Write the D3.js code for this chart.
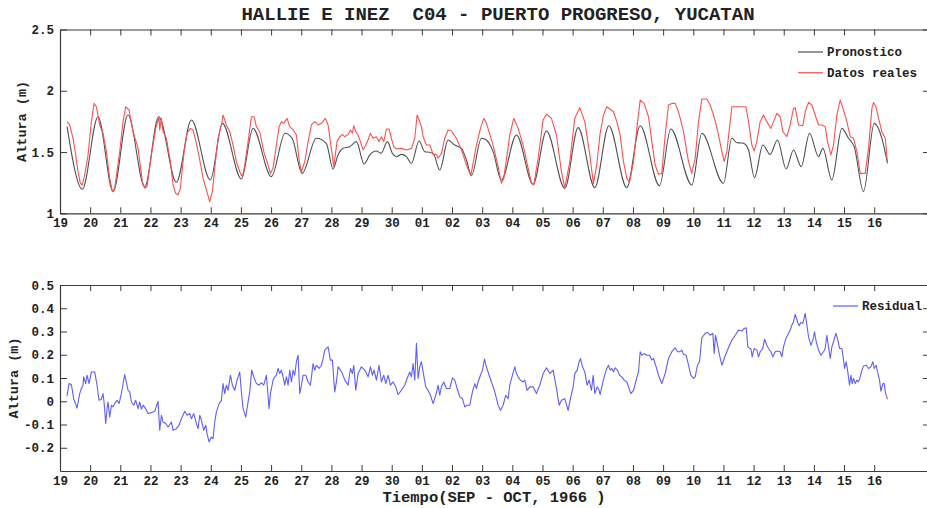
<!DOCTYPE html>
<html><head><meta charset="utf-8">
<script src="https://cdn.jsdelivr.net/npm/d3@7"></script>
<style>
body{margin:0;background:#fff}
svg{display:block}
text{font-family:"Liberation Mono","DejaVu Sans Mono",monospace;font-weight:bold;fill:#222;white-space:pre}
</style>
</head><body><svg id="c" width="927" height="508"></svg>
<script>
const titleText = "HALLIE E INEZ  C04 - PUERTO PROGRESO, YUCATAN";
const xLabelText = "Tiempo(SEP - OCT, 1966 )";
const yLabelText = "Altura (m)";
const dayTicks = d3.range(19, 47);
const dayLabels = ["19","20","21","22","23","24","25","26","27","28","29","30","01","02","03","04","05","06","07","08","09","10","11","12","13","14","15","16"];
const topYTicks = [1, 1.5, 2, 2.5];
const topYLabels = ["1", "1.5", "2", "2.5"];
const botYTicks = [-0.2, -0.1, 0, 0.1, 0.2, 0.3, 0.4, 0.5];
const botYLabels = ["-0.2", "-0.1", "0", "0.1", "0.2", "0.3", "0.4", "0.5"];
const seriesNames = ["Pronostico", "Datos reales", "Residual"];

// [day (Sep 1 = 1, Oct 1 = 31), metres]
const pronostico = [[19.233,1.707],[19.742,1.196],[20.260,1.788],[20.760,1.177],[21.256,1.802],[21.809,1.215],[22.274,1.788],[22.860,1.253],[23.357,1.761],[23.987,1.272],[24.385,1.734],[25.016,1.280],[25.400,1.693],[26.010,1.299],[26.464,1.653],[26.70,1.61],[27.030,1.326],[27.50,1.612],[27.83,1.571],[28.055,1.362],[28.221,1.476],[28.387,1.530],[28.608,1.544],[28.829,1.585],[29.083,1.402],[29.271,1.476],[29.493,1.508],[29.65,1.49],[29.857,1.585],[30.023,1.489],[30.156,1.462],[30.322,1.481],[30.488,1.462],[30.653,1.408],[30.908,1.590],[31.096,1.503],[31.262,1.498],[31.394,1.481],[31.593,1.353],[31.870,1.598],[32.091,1.557],[32.312,1.530],[32.478,1.435],[32.644,1.307],[32.975,1.612],[33.141,1.598],[33.362,1.503],[33.638,1.272],[34.136,1.639],[34.689,1.237],[35.131,1.672],[35.739,1.204],[36.181,1.699],[36.734,1.209],[37.200,1.715],[37.796,1.209],[38.238,1.715],[38.880,1.226],[39.255,1.688],[39.952,1.231],[40.284,1.653],[41.002,1.245],[41.279,1.612],[41.445,1.576],[41.60,1.574],[41.666,1.571],[41.832,1.517],[42.030,1.291],[42.307,1.557],[42.55,1.481],[42.79,1.598],[43.08,1.362],[43.324,1.517],[43.578,1.381],[43.855,1.653],[44.153,1.462],[44.297,1.530],[44.595,1.272],[44.927,1.693],[45.149,1.612],[45.336,1.544],[45.645,1.177],[46.0,1.734],[46.254,1.612],[46.44,1.408]];

const datosReales = [[19.233,1.748],[19.322,1.721],[19.432,1.612],[19.521,1.476],[19.598,1.340],[19.675,1.245],[19.742,1.231],[19.819,1.313],[19.930,1.476],[20.040,1.748],[20.129,1.897],[20.206,1.870],[20.317,1.721],[20.427,1.653],[20.538,1.503],[20.648,1.285],[20.737,1.177],[20.814,1.204],[20.980,1.503],[21.091,1.748],[21.179,1.870],[21.290,1.843],[21.422,1.666],[21.588,1.530],[21.732,1.258],[21.809,1.204],[21.887,1.218],[22.030,1.476],[22.174,1.693],[22.285,1.788],[22.307,1.680],[22.362,1.775],[22.417,1.666],[22.528,1.612],[22.661,1.421],[22.749,1.231],[22.837,1.163],[22.915,1.150],[22.992,1.204],[23.103,1.476],[23.213,1.653],[23.324,1.693],[23.412,1.680],[23.523,1.571],[23.634,1.435],[23.744,1.285],[23.855,1.190],[23.965,1.095],[24.054,1.177],[24.131,1.367],[24.242,1.612],[24.352,1.721],[24.407,1.802],[24.518,1.721],[24.629,1.666],[24.739,1.557],[24.850,1.421],[24.960,1.340],[25.049,1.299],[25.126,1.394],[25.237,1.585],[25.347,1.788],[25.436,1.788],[25.513,1.707],[25.624,1.666],[25.756,1.503],[25.867,1.421],[25.977,1.326],[26.066,1.367],[26.176,1.557],[26.265,1.707],[26.342,1.748],[26.420,1.734],[26.530,1.775],[26.619,1.707],[26.729,1.680],[26.840,1.639],[26.928,1.435],[27.006,1.340],[27.116,1.421],[27.227,1.585],[27.337,1.721],[27.448,1.748],[27.559,1.721],[27.669,1.734],[27.802,1.775],[27.890,1.721],[27.967,1.585],[28.078,1.381],[28.188,1.585],[28.277,1.625],[28.365,1.644],[28.443,1.625],[28.553,1.644],[28.631,1.680],[28.697,1.653],[28.741,1.715],[28.807,1.666],[28.885,1.639],[28.962,1.585],[29.051,1.517],[29.139,1.557],[29.216,1.598],[29.294,1.653],[29.382,1.612],[29.493,1.625],[29.581,1.585],[29.659,1.625],[29.736,1.585],[29.825,1.688],[29.913,1.688],[29.990,1.612],[30.068,1.544],[30.156,1.525],[30.322,1.530],[30.488,1.517],[30.654,1.530],[30.764,1.612],[30.842,1.802],[30.908,1.761],[30.985,1.707],[31.041,1.625],[31.151,1.557],[31.262,1.557],[31.372,1.481],[31.483,1.481],[31.538,1.449],[31.649,1.489],[31.759,1.612],[31.870,1.680],[31.980,1.672],[32.146,1.612],[32.312,1.517],[32.478,1.394],[32.622,1.307],[32.810,1.557],[32.943,1.693],[33.053,1.775],[33.141,1.734],[33.362,1.557],[33.528,1.381],[33.639,1.245],[33.716,1.285],[33.915,1.639],[34.048,1.775],[34.192,1.693],[34.357,1.557],[34.523,1.367],[34.634,1.245],[34.711,1.231],[34.855,1.449],[35.021,1.761],[35.131,1.808],[35.297,1.775],[35.463,1.639],[35.629,1.340],[35.739,1.204],[35.905,1.421],[36.071,1.775],[36.237,1.862],[36.403,1.748],[36.569,1.476],[36.690,1.240],[36.80,1.40],[36.91,1.65],[37.02,1.80],[37.133,1.870],[37.354,1.829],[37.465,1.748],[37.575,1.639],[37.686,1.421],[37.797,1.285],[37.885,1.253],[38.018,1.421],[38.128,1.693],[38.239,1.924],[38.371,1.897],[38.515,1.788],[38.626,1.585],[38.736,1.394],[38.847,1.318],[38.957,1.326],[39.068,1.639],[39.178,1.884],[39.289,1.897],[39.400,1.897],[39.510,1.829],[39.676,1.666],[39.842,1.421],[39.952,1.326],[40.063,1.449],[40.174,1.748],[40.284,1.933],[40.450,1.933],[40.560,1.884],[40.671,1.802],[40.760,1.721],[40.837,1.639],[40.948,1.503],[41.025,1.421],[41.113,1.503],[41.279,1.870],[41.445,1.870],[41.611,1.870],[41.744,1.870],[41.832,1.748],[41.943,1.557],[42.020,1.508],[42.108,1.585],[42.219,1.748],[42.329,1.802],[42.440,1.748],[42.573,1.693],[42.661,1.748],[42.772,1.816],[42.882,1.788],[42.971,1.666],[43.103,1.625],[43.214,1.721],[43.324,1.856],[43.380,1.862],[43.490,1.721],[43.634,1.715],[43.711,1.829],[43.822,1.905],[43.933,1.884],[44.043,1.802],[44.154,1.721],[44.264,1.721],[44.375,1.707],[44.452,1.585],[44.563,1.476],[44.651,1.557],[44.762,1.802],[44.872,1.924],[44.983,1.843],[45.093,1.748],[45.204,1.625],[45.314,1.612],[45.425,1.503],[45.536,1.326],[45.702,1.326],[45.812,1.530],[45.923,1.856],[45.978,1.905],[46.055,1.870],[46.144,1.775],[46.254,1.666],[46.365,1.612],[46.442,1.408]];

const residual = [[19.233,0.023],[19.300,0.076],[19.377,0.072],[19.454,0.011],[19.565,-0.029],[19.653,0.033],[19.709,0.055],[19.764,0.069],[19.786,0.105],[19.852,0.076],[19.897,0.112],[19.963,0.076],[20.040,0.126],[20.151,0.126],[20.228,0.069],[20.295,0.004],[20.372,0.009],[20.427,0.033],[20.460,-0.003],[20.516,-0.096],[20.560,-0.032],[20.593,-0.003],[20.648,-0.068],[20.704,-0.017],[20.759,-0.024],[20.814,-0.010],[20.892,0.004],[20.958,-0.010],[21.035,0.033],[21.146,0.115],[21.257,0.047],[21.312,0.040],[21.367,-0.003],[21.444,-0.017],[21.511,0.004],[21.588,-0.032],[21.643,-0.003],[21.699,-0.034],[21.754,-0.017],[21.842,-0.032],[21.920,-0.053],[22.030,-0.049],[22.141,-0.043],[22.252,0.000],[22.307,-0.125],[22.362,-0.060],[22.417,-0.089],[22.506,-0.096],[22.583,-0.111],[22.694,-0.089],[22.749,-0.125],[22.860,-0.118],[22.948,-0.103],[23.025,-0.075],[23.136,-0.043],[23.213,-0.060],[23.302,-0.053],[23.357,-0.075],[23.435,-0.053],[23.523,-0.096],[23.578,-0.118],[23.634,-0.060],[23.689,-0.082],[23.766,-0.125],[23.832,-0.103],[23.877,-0.139],[23.943,-0.175],[24.020,-0.154],[24.076,-0.161],[24.131,-0.089],[24.186,-0.046],[24.275,-0.010],[24.352,0.004],[24.407,0.076],[24.463,0.033],[24.518,0.069],[24.573,0.047],[24.651,0.112],[24.717,0.069],[24.794,0.047],[24.872,0.091],[24.960,0.126],[25.016,0.040],[25.071,-0.032],[25.159,-0.068],[25.237,-0.003],[25.292,0.040],[25.358,0.134],[25.425,0.105],[25.513,0.076],[25.602,0.069],[25.679,0.080],[25.756,0.069],[25.845,0.112],[25.933,-0.032],[25.977,0.033],[26.066,0.091],[26.121,0.105],[26.176,0.112],[26.232,0.141],[26.287,0.119],[26.342,0.134],[26.398,0.105],[26.453,0.069],[26.508,0.105],[26.563,0.069],[26.619,0.134],[26.674,0.083],[26.729,0.134],[26.784,0.112],[26.840,0.170],[26.895,0.198],[26.950,0.033],[27.006,0.069],[27.061,0.112],[27.149,0.112],[27.227,0.083],[27.304,0.069],[27.393,0.162],[27.448,0.134],[27.503,0.155],[27.592,0.141],[27.669,0.155],[27.724,0.184],[27.780,0.220],[27.890,0.234],[27.967,0.177],[28.033,0.177],[28.111,0.040],[28.166,0.083],[28.221,0.148],[28.299,0.134],[28.365,0.119],[28.443,0.091],[28.553,0.069],[28.631,0.141],[28.697,0.119],[28.741,0.155],[28.807,0.047],[28.885,0.119],[28.995,0.148],[29.106,0.134],[29.216,0.105],[29.294,0.148],[29.360,0.112],[29.415,0.134],[29.493,0.091],[29.581,0.155],[29.659,0.083],[29.736,0.112],[29.802,0.076],[29.880,0.112],[29.957,0.069],[30.046,0.083],[30.134,0.062],[30.211,0.029],[30.322,0.047],[30.433,0.069],[30.510,0.098],[30.598,0.126],[30.654,0.105],[30.709,0.162],[30.764,0.091],[30.820,0.249],[30.875,0.098],[30.930,0.148],[30.985,0.170],[31.041,0.126],[31.129,0.062],[31.206,0.047],[31.284,0.026],[31.372,-0.010],[31.461,0.026],[31.538,0.069],[31.593,0.026],[31.649,0.062],[31.726,0.083],[31.815,0.055],[31.925,0.055],[32.014,0.101],[32.091,0.091],[32.168,0.055],[32.257,0.019],[32.345,0.011],[32.423,-0.024],[32.500,-0.017],[32.589,-0.017],[32.677,0.040],[32.754,0.076],[32.810,0.055],[32.865,0.083],[32.942,0.112],[33.009,0.134],[33.075,0.181],[33.141,0.148],[33.230,0.112],[33.307,0.083],[33.418,0.040],[33.528,-0.017],[33.606,-0.039],[33.694,-0.017],[33.783,0.026],[33.860,0.011],[33.915,0.069],[34.004,0.112],[34.081,0.148],[34.136,0.119],[34.192,0.105],[34.269,0.091],[34.357,0.083],[34.413,0.091],[34.490,0.047],[34.579,0.062],[34.689,0.062],[34.800,0.033],[34.910,0.069],[35.021,0.119],[35.131,0.144],[35.242,0.119],[35.353,0.134],[35.463,0.055],[35.552,-0.017],[35.629,0.004],[35.739,0.011],[35.850,-0.039],[35.927,0.011],[36.016,0.062],[36.071,0.119],[36.149,0.134],[36.215,0.170],[36.259,0.184],[36.325,0.148],[36.403,0.126],[36.480,0.069],[36.547,0.091],[36.624,0.047],[36.679,0.112],[36.735,0.033],[36.812,0.062],[36.878,0.047],[36.912,0.029],[36.967,0.062],[37.045,0.105],[37.111,0.134],[37.188,0.155],[37.244,0.134],[37.299,0.141],[37.354,0.126],[37.410,0.144],[37.487,0.134],[37.553,0.112],[37.631,0.105],[37.708,0.091],[37.796,0.083],[37.852,0.062],[37.929,0.033],[38.018,0.047],[38.106,0.091],[38.183,0.126],[38.239,0.213],[38.294,0.198],[38.371,0.205],[38.460,0.198],[38.548,0.198],[38.626,0.177],[38.681,0.184],[38.769,0.148],[38.847,0.112],[38.957,0.076],[39.068,0.119],[39.178,0.184],[39.289,0.213],[39.400,0.230],[39.477,0.213],[39.565,0.213],[39.621,0.220],[39.676,0.201],[39.764,0.198],[39.842,0.155],[39.919,0.112],[40.008,0.098],[40.063,0.105],[40.140,0.155],[40.207,0.170],[40.284,0.273],[40.395,0.292],[40.472,0.296],[40.560,0.284],[40.649,0.292],[40.693,0.205],[40.737,0.284],[40.804,0.241],[40.870,0.198],[40.948,0.155],[41.025,0.184],[41.113,0.213],[41.202,0.241],[41.279,0.263],[41.390,0.284],[41.500,0.306],[41.611,0.302],[41.688,0.313],[41.754,0.316],[41.810,0.234],[41.865,0.227],[41.909,0.227],[41.954,0.191],[42.020,0.227],[42.108,0.220],[42.164,0.191],[42.219,0.213],[42.307,0.227],[42.363,0.267],[42.440,0.241],[42.495,0.227],[42.573,0.213],[42.639,0.191],[42.716,0.213],[42.794,0.216],[42.882,0.213],[42.938,0.191],[42.993,0.234],[43.070,0.270],[43.159,0.292],[43.214,0.306],[43.269,0.328],[43.324,0.342],[43.380,0.374],[43.457,0.342],[43.512,0.325],[43.568,0.339],[43.634,0.335],[43.711,0.378],[43.767,0.328],[43.822,0.277],[43.899,0.241],[43.966,0.263],[44.021,0.299],[44.076,0.256],[44.154,0.220],[44.231,0.198],[44.320,0.213],[44.375,0.227],[44.430,0.284],[44.485,0.234],[44.541,0.184],[44.596,0.234],[44.651,0.256],[44.729,0.292],[44.784,0.270],[44.850,0.227],[44.928,0.227],[44.983,0.177],[45.016,0.141],[45.071,0.170],[45.116,0.134],[45.182,0.069],[45.226,0.112],[45.270,0.076],[45.314,0.098],[45.370,0.076],[45.425,0.091],[45.481,0.083],[45.536,0.105],[45.591,0.134],[45.646,0.152],[45.735,0.155],[45.812,0.141],[45.890,0.148],[45.956,0.170],[46.000,0.141],[46.066,0.155],[46.111,0.126],[46.177,0.091],[46.221,0.043],[46.288,0.076],[46.332,0.076],[46.376,0.033],[46.442,0.009]];

const svg = d3.select("#c");
svg.append("rect").attr("width", 927).attr("height", 508).attr("fill", "#fff");

const L = 60, R = 930;
const x = d3.scaleLinear().domain([19, 47.85]).range([L, R]);
const yTop = d3.scaleLinear().domain([1, 2.5]).range([213.3, 29.5]);
const yBot = d3.scaleLinear().domain([-0.3, 0.5]).range([471, 285]);

const AX = "#3a3a3a";
const C_PRON = "#505050", C_REAL = "#ff5050", C_RES = "#5e5eff";

function panel(y, yTicks, yLabels, id, labelPad) {
  const g = svg.append("g");
  const [y0, y1] = y.range();
  g.append("clipPath").attr("id", id).append("rect")
    .attr("x", L).attr("y", y1).attr("width", R - L).attr("height", y0 - y1);
  const xb = g.append("g").attr("transform", `translate(0,${y0})`)
    .call(d3.axisBottom(x).tickValues(dayTicks).tickFormat((d, i) => dayLabels[i])
      .tickSizeInner(-6).tickSizeOuter(0).tickPadding(labelPad));
  const xt = g.append("g").attr("transform", `translate(0,${y1})`)
    .call(d3.axisTop(x).tickValues(dayTicks).tickFormat("")
      .tickSizeInner(-6).tickSizeOuter(0));
  const yl = g.append("g").attr("transform", `translate(${L},0)`)
    .call(d3.axisLeft(y).tickValues(yTicks).tickFormat((d, i) => yLabels[i])
      .tickSizeInner(-7).tickSizeOuter(0).tickPadding(6));
  const yr = g.append("g").attr("transform", `translate(${R},0)`)
    .call(d3.axisRight(y).tickValues(yTicks).tickFormat("")
      .tickSizeInner(-7).tickSizeOuter(0));
  [xb, xt, yl, yr].forEach(a => {
    a.selectAll("path.domain").attr("stroke", AX).attr("stroke-width", 1.2);
    a.selectAll(".tick line").attr("stroke", AX).attr("stroke-width", 1);
    a.selectAll("text").attr("font-family", null).attr("font-size", 12.5).attr("fill", "#222");
  });
  return g;
}

const gTop = panel(yTop, topYTicks, topYLabels, "clipTop", 5);
const gBot = panel(yBot, botYTicks, botYLabels, "clipBot", 5.6);

gTop.append("path").datum(pronostico).attr("clip-path", "url(#clipTop)")
  .attr("fill", "none").attr("stroke", C_PRON).attr("stroke-width", 1.1)
  .attr("d", d3.line().x(d => x(d[0])).y(d => yTop(d[1])).curve(d3.curveMonotoneX));
gTop.append("path").datum(datosReales).attr("clip-path", "url(#clipTop)")
  .attr("fill", "none").attr("stroke", C_REAL).attr("stroke-width", 1.1)
  .attr("stroke-linejoin", "round")
  .attr("d", d3.line().x(d => x(d[0])).y(d => yTop(d[1])));

gBot.append("path").datum(residual).attr("clip-path", "url(#clipBot)")
  .attr("fill", "none").attr("stroke", C_RES).attr("stroke-width", 1.1)
  .attr("stroke-linejoin", "round")
  .attr("d", d3.line().x(d => x(d[0])).y(d => yBot(d[1])));

function legendItem(lx, ly, color, label) {
  svg.append("line").attr("x1", lx).attr("x2", lx + 25).attr("y1", ly).attr("y2", ly)
    .attr("stroke", color).attr("stroke-width", 1.2);
  svg.append("text").attr("x", lx + 29).attr("y", ly + 4.3).attr("font-size", 12.5).text(label);
}
legendItem(798, 52, C_PRON, seriesNames[0]);
legendItem(798, 72.7, C_REAL, seriesNames[1]);
legendItem(833, 306, C_RES, seriesNames[2]);

svg.append("text").attr("x", 498).attr("y", 19.5).attr("text-anchor", "middle")
  .attr("xml:space", "preserve").attr("font-size", 19).text(titleText);
svg.append("text").attr("x", 494).attr("y", 502).attr("text-anchor", "middle")
  .attr("font-size", 15.5).text(xLabelText);
svg.append("text").attr("transform", `translate(26,${(29.5 + 213.3) / 2}) rotate(-90)`)
  .attr("text-anchor", "middle").attr("font-size", 13.5).text(yLabelText);
svg.append("text").attr("transform", `translate(18,${(285 + 471) / 2}) rotate(-90)`)
  .attr("text-anchor", "middle").attr("font-size", 13.5).text(yLabelText);
</script>
</body></html>
